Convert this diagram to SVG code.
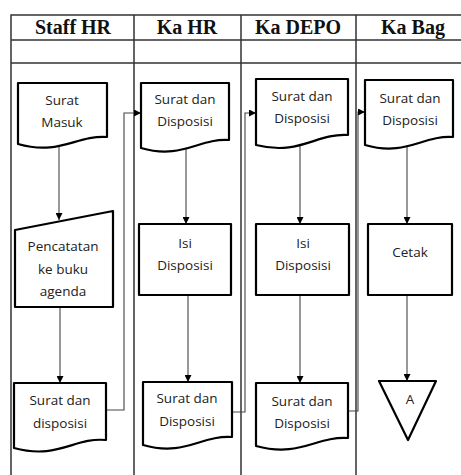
<svg xmlns="http://www.w3.org/2000/svg" width="461" height="475" viewBox="0 0 461 475">
<style>
.grid{stroke:#333;stroke-width:1.5;fill:none}
.hdr{font-family:"Liberation Serif","Times New Roman",serif;font-weight:bold;font-size:20px;fill:#111;text-anchor:middle}
.shape{fill:#fff;stroke:#000;stroke-width:2.2;stroke-linejoin:round}
.lbl{font-family:"Open Sans","Noto Sans",sans-serif;font-size:13.5px;fill:#222;text-anchor:middle}
.conn{stroke:#444;stroke-width:1.1;fill:none}
</style>
<defs>
<marker id="ah" viewBox="0 0 10 10" refX="10" refY="5" markerWidth="7" markerHeight="7" markerUnits="userSpaceOnUse" orient="auto">
<path d="M0,0 L10,5 L0,10 Z" fill="#000"/>
</marker>
</defs>
<g id="table">
<path class="grid" d="M11,475 V15 H461 M11,40 H461 M11,63 H461 M134,15 V475 M241,15 V475 M356,15 V475"/>
<text class="hdr" x="73" y="34">Staff HR</text>
<text class="hdr" x="187" y="34">Ka HR</text>
<text class="hdr" x="298" y="34">Ka DEPO</text>
<text class="hdr" x="413" y="34">Ka Bag</text>
</g>
<g id="connectors">
<path class="conn" d="M59,146 V220" marker-end="url(#ah)"/>
<path class="conn" d="M60,307 V383" marker-end="url(#ah)"/>
<path class="conn" d="M106,410 H124 V113 H141" marker-end="url(#ah)"/>
<path class="conn" d="M186,147 V224" marker-end="url(#ah)"/>
<path class="conn" d="M188,295 V382" marker-end="url(#ah)"/>
<path class="conn" d="M232,412 H245 V113 H256" marker-end="url(#ah)"/>
<path class="conn" d="M300,145 V224" marker-end="url(#ah)"/>
<path class="conn" d="M300,295 V383" marker-end="url(#ah)"/>
<path class="conn" d="M348,411 H358 V112 H365" marker-end="url(#ah)"/>
<path class="conn" d="M407,146 V224" marker-end="url(#ah)"/>
<path class="conn" d="M407,295 V381" marker-end="url(#ah)"/>
</g>
<g id="surat-masuk">
<path class="shape" d="M18,83 H107 V137 C76,135 60,156 18,144 Z"/>
<text class="lbl" x="62" y="105">Surat</text>
<text class="lbl" x="62" y="127">Masuk</text>
</g>
<g id="pencatatan">
<path class="shape" d="M15,230 L113,211 V307 H15 Z"/>
<text class="lbl" x="63" y="251">Pencatatan</text>
<text class="lbl" x="63" y="274">ke buku</text>
<text class="lbl" x="63" y="296">agenda</text>
</g>
<g id="staff-surat-disposisi">
<path class="shape" d="M14,383 H106 V440 C74,437 58,460 14,448 Z"/>
<text class="lbl" x="60" y="405">Surat dan</text>
<text class="lbl" x="60" y="428">disposisi</text>
</g>
<g id="kahr-surat-disposisi">
<path class="shape" d="M141,83 H229 V140 C199,138 182,160 141,148 Z"/>
<text class="lbl" x="185" y="104">Surat dan</text>
<text class="lbl" x="185" y="126">Disposisi</text>
</g>
<g id="kahr-isi-disposisi">
<rect class="shape" x="139" y="224" width="92" height="71"/>
<text class="lbl" x="185" y="248">Isi</text>
<text class="lbl" x="185" y="270">Disposisi</text>
</g>
<g id="kahr-surat-disposisi-2">
<path class="shape" d="M143,382 H232 V437 C201,435 185,457 143,445 Z"/>
<text class="lbl" x="187" y="403">Surat dan</text>
<text class="lbl" x="187" y="426">Disposisi</text>
</g>
<g id="kadepo-surat-disposisi">
<path class="shape" d="M256,79 H348 V135 C316,133 300,156 256,145 Z"/>
<text class="lbl" x="302" y="101">Surat dan</text>
<text class="lbl" x="302" y="123">Disposisi</text>
</g>
<g id="kadepo-isi-disposisi">
<rect class="shape" x="256" y="224" width="93" height="71"/>
<text class="lbl" x="303" y="248">Isi</text>
<text class="lbl" x="303" y="270">Disposisi</text>
</g>
<g id="kadepo-surat-disposisi-2">
<path class="shape" d="M256,383 H348 V438 C316,436 300,458 256,446 Z"/>
<text class="lbl" x="302" y="406">Surat dan</text>
<text class="lbl" x="302" y="428">Disposisi</text>
</g>
<g id="kabag-surat-disposisi">
<path class="shape" d="M365,80 H453 V137 C423,135 406,157 365,145 Z"/>
<text class="lbl" x="410" y="103">Surat dan</text>
<text class="lbl" x="410" y="125">Disposisi</text>
</g>
<g id="kabag-cetak">
<rect class="shape" x="368" y="224" width="84" height="71"/>
<text class="lbl" x="410" y="257">Cetak</text>
</g>
<g id="kabag-a">
<path class="shape" d="M379,381 H436 L408,440 Z"/>
<text class="lbl" x="410" y="404">A</text>
</g>
</svg>
